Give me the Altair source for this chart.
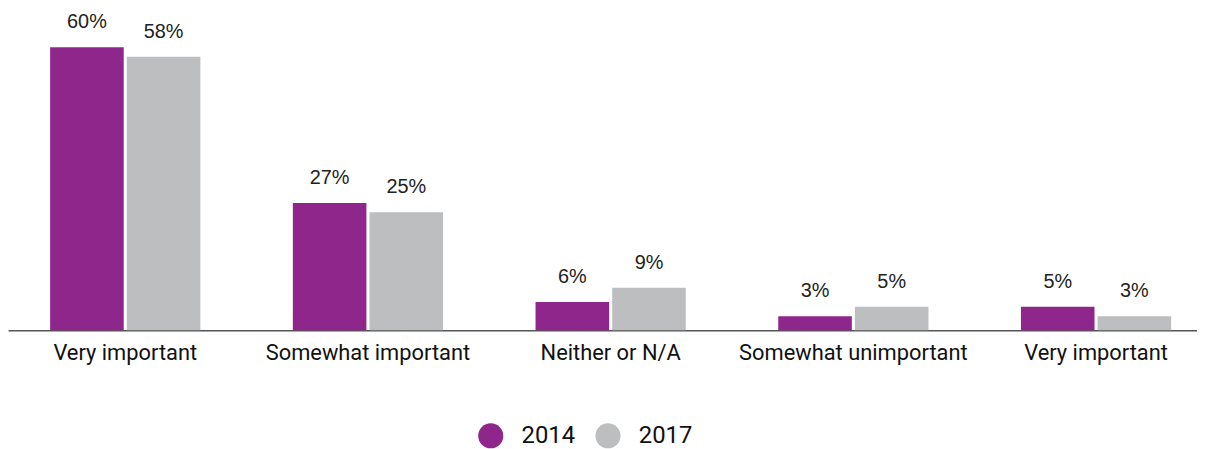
import altair as alt
import pandas as pd

categories = ["Very important", "Somewhat important", "Neither or N/A", "Somewhat unimportant", "Very important"]
years = ["2014", "2017"]
v2014 = [60, 27, 6, 3, 5]
v2017 = [58, 25, 9, 5, 3]

rows = []
for i, c in enumerate(categories):
    rows.append({"idx": i, "cat": c, "year": "2014", "value": v2014[i]})
    rows.append({"idx": i, "cat": c, "year": "2017", "value": v2017[i]})
df = pd.DataFrame(rows)
df["label"] = df["value"].astype(str) + "%"

label_expr = "[" + ",".join('"%s"' % c for c in categories) + "][datum.value]"

color = alt.Color("year:N", scale=alt.Scale(domain=years, range=["#8E268C", "#BDBEC0"]),
                  legend=alt.Legend(title=None, orient="none", legendX=473, legendY=416,
                                    direction="horizontal",
                                    symbolType="circle", symbolSize=640, symbolStrokeWidth=0,
                                    labelFont="Roboto", labelFontSize=24, labelColor="#111",
                                    columnPadding=20, labelOffset=18))

x = alt.X("idx:O", scale=alt.Scale(paddingInner=0.381, paddingOuter=0.14, align=0.62),
          axis=alt.Axis(title=None, labelExpr=label_expr, labelAngle=0, ticks=False,
                        labelFont="Roboto", labelFontSize=22, labelColor="#111", labelLimit=0,
                        labelPadding=12, domainColor="#555", domainWidth=1.5))
xo = alt.XOffset("year:N", scale=alt.Scale(domain=years, paddingInner=0.04))
y = alt.Y("value:Q", scale=alt.Scale(domain=[0, 68]), axis=None)

base = alt.Chart(df).encode(x=x, xOffset=xo, y=y)
bars = base.mark_bar().encode(color=color)
text = base.mark_text(baseline="bottom", dy=-15, font="Liberation Sans", fontSize=20, color="#222").encode(text="label:N")

chart = (bars + text).properties(width=1197, height=323, padding=0).configure_view(stroke=None)
chart.save("out.html", embed_options={"renderer": "svg", "actions": False})
